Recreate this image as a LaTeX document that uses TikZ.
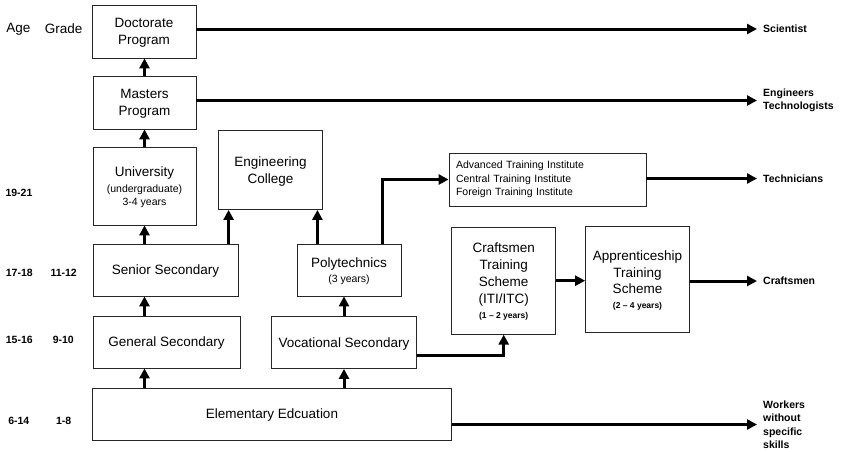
\documentclass[tikz,border=0pt]{standalone}
\usepackage{fontspec}
\setmainfont{Liberation Sans}
\usetikzlibrary{arrows.meta}

\newcommand\smalltxt{\fontsize{10.5}{13}\selectfont}
\newcommand\tinytxt{\fontsize{8.5}{10}\selectfont\bfseries}

\begin{document}
\begin{tikzpicture}[x=1pt,y=-1pt,
    box/.style={draw=black!85, line width=0.8pt, align=center, inner sep=0pt, text depth=0pt, font=\fontsize{13.5}{17}\selectfont},
    arr/.style={line width=3pt, -{Triangle[length=10pt,width=10pt]}},
    outcome/.style={anchor=west, inner xsep=6pt, inner ysep=0pt, align=left, font=\fontsize{10.5}{13.5}\selectfont\bfseries},
    head/.style={font=\fontsize{13.5}{16}\selectfont},
    agelbl/.style={font=\fontsize{10.5}{13}\selectfont\bfseries}]

    \useasboundingbox (0,0) rectangle (843,451);

    % age and grade column
    \node[head] (age) at (18.3,29) {Age};
    \node[head] (grade) at (63.7,29) {Grade};
    \node[agelbl] (ageuni) at (19,193) {19-21};
    \node[agelbl] (agesen) at (19.3,273) {17-18};
    \node[agelbl] (gradesen) at (63.7,273) {11-12};
    \node[agelbl] (agegen) at (19.3,340) {15-16};
    \node[agelbl] (gradegen) at (63.3,340) {9-10};
    \node[agelbl] (ageelem) at (18.8,421) {6-14};
    \node[agelbl] (gradeelem) at (63.7,421) {1-8};

    % boxes
    \node[box, minimum width=104pt, minimum height=53pt] (doct) at (144,31.5) {Doctorate\\Program};
    \node[box, minimum width=103pt, minimum height=53pt] (masters) at (144.5,102.5) {Masters\\Program};
    \node[box, minimum width=103pt, minimum height=78pt] (uni) at (144.5,186) {University\\[-1.3pt]\smalltxt (undergraduate)\\[-3.7pt]\smalltxt 3-4 years};
    \node[box, minimum width=104pt, minimum height=79pt] (engcol) at (270.5,170) {Engineering\\College};
    \node[box, minimum width=145pt, minimum height=52pt] (senior) at (165.5,270) {Senior Secondary};
    \node[box, minimum width=147pt, minimum height=52pt] (general) at (166.5,342) {General Secondary};
    \node[box, minimum width=359pt, minimum height=52pt] (elem) at (272,414) {Elementary Edcuation};
    \node[box, minimum width=104pt, minimum height=52pt] (poly) at (349,270) {Polytechnics\\[-2pt]\smalltxt (3 years)};
    \node[box, minimum width=145pt, minimum height=52pt] (voc) at (344,342.5) {Vocational Secondary};
    \node[box, text depth=, minimum width=197pt, minimum height=53pt, text width=183pt, inner xsep=7pt, align=left, font=\fontsize{10.5}{13.5}\selectfont] (adv) at (547.5,179.5) {Advanced Training Institute\\Central Training Institute\\Foreign Training Institute};
    \node[box, minimum width=104pt, minimum height=107pt] (cts) at (503.7,280.7) {Craftsmen\\Training\\Scheme\\(ITI/ITC)\\[-2.3pt]\tinytxt (1 – 2 years)};
    \node[box, minimum width=104pt, minimum height=106pt] (apr) at (637.5,279.5) {Apprenticeship\\[-0.5pt]Training\\[-0.5pt]Scheme\\[-2.6pt]\tinytxt (2 – 4 years)};

    % outcomes
    \node[outcome] (sci) at (757,29) {Scientist};
    \node[outcome] (eng) at (757,100.5) {Engineers\\Technologists};
    \node[outcome] (tech) at (757,178.5) {Technicians};
    \node[outcome] (craft) at (757,281) {Craftsmen};
    \node[outcome] (work) at (757,424.5) {Workers\\without\\specific\\skills};

    % arrows
    \coordinate (ecL) at ([xshift=10.5pt]engcol.south west);
    \coordinate (ecR) at ([xshift=-5.5pt]engcol.south east);
    \coordinate (polyR) at ([xshift=-19pt]poly.north east);
    \coordinate (vocR) at ([yshift=-13pt]voc.east);

    \draw[arr] (elem.north -| uni.south) -- (general.south -| uni.south);
    \draw[arr] (general.north -| uni.south) -- (senior.south -| uni.south);
    \draw[arr] (senior.north -| uni.south) -- (uni.south);
    \draw[arr] (uni.north) -- (masters.south);
    \draw[arr] (masters.north) -- (doct.south -| masters.north);
    \draw[arr] (senior.north -| ecL) -- (ecL);
    \draw[arr] (poly.north -| ecR) -- (ecR);
    \draw[arr] (polyR) |- (adv.west);
    \draw[arr] (elem.north -| voc.south) -- (voc.south);
    \draw[arr] (voc.north) -- (voc.north |- poly.south);
    \draw[arr] (vocR) -| (cts.south);
    \draw[arr] (cts.east) -- (cts.east -| apr.west);

    \draw[arr] (doct.east |- sci.west) -- (sci.west);
    \draw[arr] (masters.east |- eng.west) -- (eng.west);
    \draw[arr] (adv.east |- tech.west) -- (tech.west);
    \draw[arr] (apr.east |- craft.west) -- (craft.west);
    \draw[arr] (elem.east |- work.west) -- (work.west);

\end{tikzpicture}
\end{document}
